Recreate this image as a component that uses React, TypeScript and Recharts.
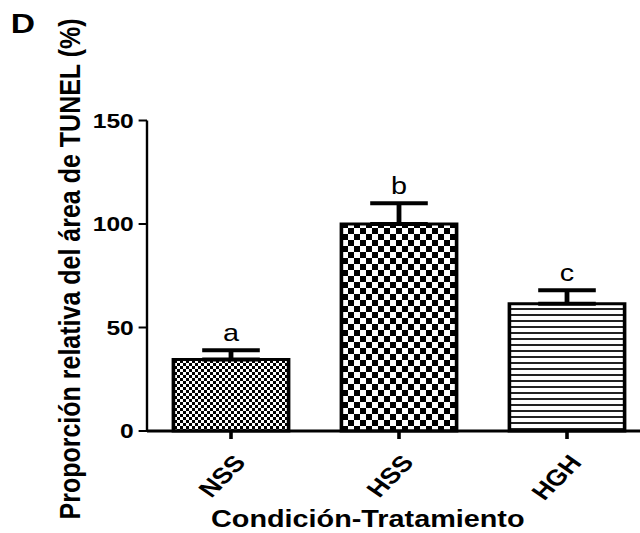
import React from 'react'
import { BarChart, Bar, XAxis, YAxis, ErrorBar, Cell, LabelList } from 'recharts'

const categories = ['NSS', 'HSS', 'HGH']
const means = [34.5, 100, 61.5]
const sems = [4.5, 10, 6.5]
const letters = ['a', 'b', 'c']
const fills = ['url(#pFine)', 'url(#pCheck)', 'url(#pLines)']
const yTicks = [0, 50, 100, 150]

const data = categories.map((name, i) => ({
  name,
  value: means[i],
  err: [0, sems[i]],
  letter: letters[i],
}))

// the source figure is stretched horizontally, so the whole chart is scaled the same way
const SX = 1.2
const FONT = 'Liberation Sans, Arial, Helvetica, sans-serif'

const XTick = (props: any) => {
  const { x, y, payload } = props
  return (
    <g transform={`translate(${x + 1},${y + 12}) rotate(-50)`}>
      <text x={0} y={0} dy="0.71em" textAnchor="end" fontFamily={FONT} fontWeight="bold" fontSize={22.5} fill="#000">
        {payload.value}
      </text>
    </g>
  )
}

const LetterLabel = (props: any) => {
  const { x, y, width, height, value, index } = props
  const i = typeof index === 'number' ? index : letters.indexOf(value)
  const pxPerUnit = height / means[i]
  const top = y - sems[i] * pxPerUnit
  return (
    <text x={x + width / 2} y={top - 9} textAnchor="middle" fontFamily={FONT} fontSize={24} fill="#000">
      {value}
    </text>
  )
}

const App: React.FC = () => {
  return (
    <div style={{ position: 'absolute', left: 0, top: 0, width: 640, height: 533, overflow: 'hidden', background: '#fff' }}>
      <div style={{ width: 560, height: 533, transform: `scale(${SX},1)`, transformOrigin: '0 0' }}>
        <BarChart width={560} height={533} data={data} margin={{ top: 120.5, right: 17.5, bottom: 0, left: 0 }}>
          <defs>
            <pattern id="pFine" patternUnits="userSpaceOnUse" width={5} height={6}>
              <rect x={0} y={0} width={5} height={6} fill="#fff" />
              <rect x={0} y={0} width={2.5} height={3} fill="#000" />
              <rect x={2.5} y={3} width={2.5} height={3} fill="#000" />
            </pattern>
            <pattern id="pCheck" patternUnits="userSpaceOnUse" width={10} height={12}>
              <rect x={0} y={0} width={10} height={12} fill="#fff" />
              <rect x={0} y={0} width={5} height={6} fill="#000" />
              <rect x={5} y={6} width={5} height={6} fill="#000" />
            </pattern>
            <pattern id="pLines" patternUnits="userSpaceOnUse" width={10} height={6}>
              <rect x={0} y={0} width={10} height={6} fill="#fff" />
              <rect x={0} y={2} width={10} height={2} fill="#222" />
            </pattern>
          </defs>
          <text x={9} y={33} fontFamily={FONT} fontWeight="bold" fontSize={28} fill="#000">D</text>
          <XAxis
            dataKey="name"
            interval={0}
            height={102}
            tickSize={8}
            tick={<XTick />}
            tickLine={{ stroke: '#000', strokeWidth: 3 }}
            axisLine={{ stroke: '#000', strokeWidth: 3 }}
            label={{
              content: (p: any) => (
                <text x={p.viewBox.x + 184} y={p.viewBox.y + 96} textAnchor="middle" fontFamily={FONT} fontWeight="bold" fontSize={24} fill="#000">
                  Condición-Tratamiento
                </text>
              ),
            }}
          />
          <YAxis
            domain={[0, 150]}
            ticks={yTicks}
            width={122.5}
            tickSize={7}
            tickMargin={4}
            tickLine={{ stroke: '#000', strokeWidth: 2 }}
            axisLine={{ stroke: '#000', strokeWidth: 2 }}
            tick={{ fill: '#000', fontFamily: FONT, fontWeight: 'bold', fontSize: 20.5 }}
            label={{
              content: (p: any) => {
                const cx = 66.7
                const cy = p.viewBox.y + 148.5
                return (
                  <text x={cx} y={cy} transform={`rotate(-90,${cx},${cy})`} textAnchor="middle" fontFamily={FONT} fontWeight="bold" fontSize={25} fill="#000">
                    Proporción relativa del área de TUNEL (%)
                  </text>
                )
              },
            }}
          />
          <Bar dataKey="value" barSize={96} stroke="#000" strokeWidth={3} isAnimationActive={false}>
            {data.map((d, i) => (
              <Cell key={d.name} fill={fills[i]} />
            ))}
            <ErrorBar dataKey="err" direction="y" width={24} strokeWidth={4} stroke="#000" isAnimationActive={false} />
            <LabelList dataKey="letter" content={<LetterLabel />} />
          </Bar>
        </BarChart>
      </div>
    </div>
  )
}

export default App
